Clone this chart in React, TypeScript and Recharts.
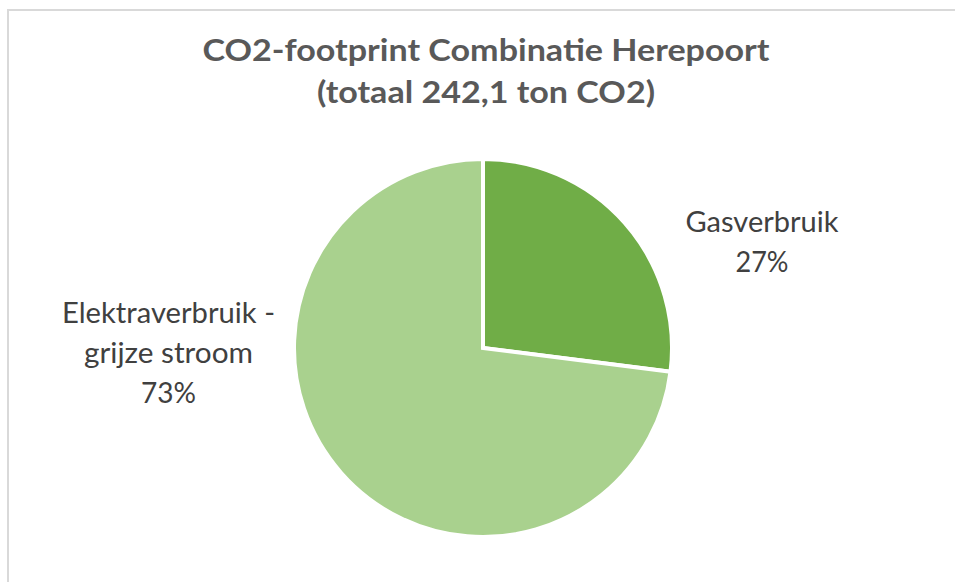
import React from 'react';
import { PieChart, Pie, Cell } from 'recharts';

const categories = ['Gasverbruik', 'Elektraverbruik - grijze stroom'];
const shares = [27, 73];
const colors = ['#70AD47', '#A9D18E'];
const titleLines = ['CO2-footprint Combinatie Herepoort', '(totaal 242,1 ton CO2)'];

const data = categories.map((name, i) => ({ name, value: shares[i] }));

const FONT = 'Lato, "Open Sans", sans-serif';

const labelLayout = [
  { dx: 279, lines: [['Gasverbruik', 153, -116], ['27%', 53, -76]] },
  {
    dx: -314.5,
    lines: [
      ['Elektraverbruik -', 213, -25],
      ['grijze stroom', 169, 15],
      ['73%', 55, 55],
    ],
  },
];

const renderLabel = (props: any) => {
  const { cx, cy, index } = props;
  const l = labelLayout[index];
  return (
    <g key={`lbl-${index}`}>
      {l.lines.map(([txt, w, dy]: any, i: number) => (
        <text
          key={i}
          x={cx + l.dx}
          y={cy + dy}
          textAnchor="middle"
          fill="#404040"
          fontSize={28}
          fontFamily={FONT}
          textLength={w}
          lengthAdjust="spacingAndGlyphs"
        >
          {txt}
        </text>
      ))}
    </g>
  );
};

export default function App() {
  return (
    <div
      style={{
        position: 'fixed',
        left: 7,
        top: 9,
        width: 946,
        height: 600,
        border: '2px solid #D9D9D9',
        background: '#fff',
      }}
    >
      <PieChart width={944} height={598} margin={{ top: 0, right: 0, bottom: 0, left: 0 }}>
        <Pie
          data={data}
          dataKey="value"
          nameKey="name"
          cx={474}
          cy={337}
          outerRadius={189}
          startAngle={90}
          endAngle={-270}
          stroke="#fff"
          strokeWidth={4}
          label={renderLabel}
          labelLine={false}
          isAnimationActive={false}
        >
          {data.map((d, i) => (
            <Cell key={d.name} fill={colors[i]} />
          ))}
        </Pie>
      </PieChart>
      <svg
        width={944}
        height={130}
        style={{ position: 'absolute', left: 0, top: 0, pointerEvents: 'none' }}
      >
        <text x={477} y={50} textAnchor="middle" fill="#595959" fontSize={30} fontWeight="bold" fontFamily={FONT} textLength={567} lengthAdjust="spacingAndGlyphs">
          {titleLines[0]}
        </text>
        <text x={477} y={92} textAnchor="middle" fill="#595959" fontSize={30} fontWeight="bold" fontFamily={FONT} textLength={338} lengthAdjust="spacingAndGlyphs">
          {titleLines[1]}
        </text>
      </svg>
    </div>
  );
}
